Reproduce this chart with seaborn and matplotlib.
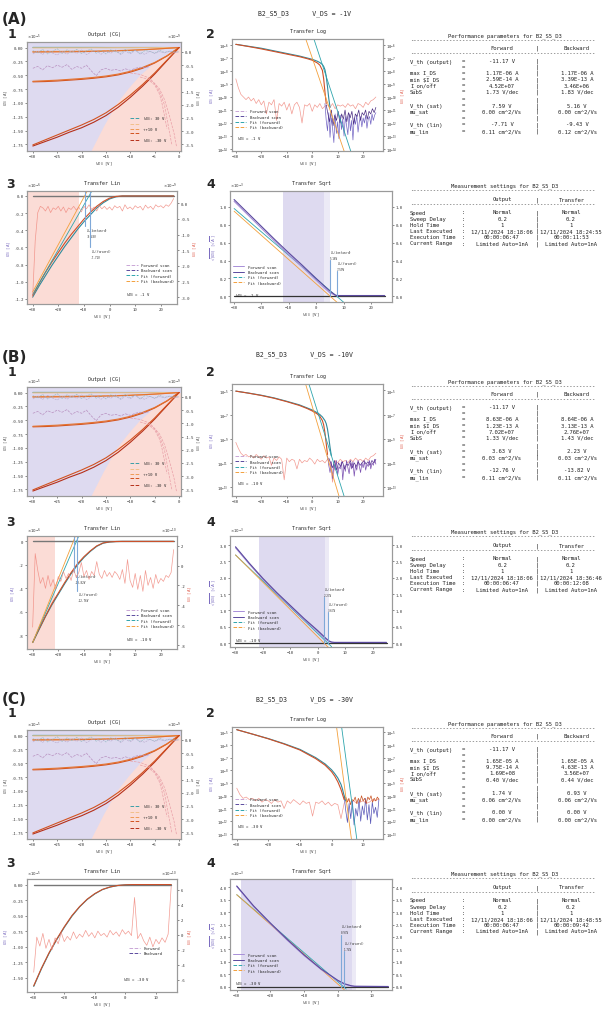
import matplotlib
matplotlib.use('Agg')
import matplotlib.pyplot as plt
from matplotlib.lines import Line2D
from matplotlib.ticker import NullLocator, FormatStrFormatter
import numpy as np
import seaborn as sns

W, H = 602, 1020
LAV = '#dedaf0'
LAV_LIGHT = '#eceaf6'
PINK = '#fbdcd6'
C_FWD = '#5b4a9e'
C_BWD = '#a88fd8'
C_FITF = '#2ea5ad'
C_FITB = '#f3a03c'
C_TEAL = '#2f8a9c'
C_RED = '#cf4f28'
C_GATE = '#f08a80'
C_VTH = '#7fa8d8'
TICK = 2.8

# ---------------- Output (CG): same output sweep in all three panels ----------------
vds = [-30, -27.5, -25, -22.5, -20, -17.5, -15, -12.5, -10, -7.5, -5, -2.5, 0]
id_out_m30_fwd = [-1.78, -1.70, -1.62, -1.53, -1.45, -1.35, -1.23, -1.08, -0.90, -0.70, -0.48, -0.24, 0.0]
id_out_m30_bwd = [-1.76, -1.67, -1.58, -1.49, -1.40, -1.30, -1.18, -1.03, -0.86, -0.67, -0.46, -0.23, 0.0]
id_out_m20_fwd = [-0.62, -0.615, -0.605, -0.59, -0.575, -0.555, -0.53, -0.495, -0.445, -0.375, -0.28, -0.155, 0.0]
id_out_m20_bwd = [-0.61, -0.60, -0.59, -0.575, -0.56, -0.54, -0.515, -0.48, -0.43, -0.36, -0.27, -0.15, 0.0]
id_out_m10_fwd = [-0.072, -0.071, -0.07, -0.068, -0.066, -0.063, -0.059, -0.054, -0.047, -0.038, -0.027, -0.014, 0.0]
id_out_m10_bwd = [-0.082, -0.081, -0.079, -0.077, -0.074, -0.07, -0.065, -0.059, -0.051, -0.041, -0.029, -0.015, 0.0]
id_out_0 = [-0.006, -0.006, -0.005, -0.005, -0.005, -0.004, -0.004, -0.003, -0.003, -0.002, -0.002, -0.001, 0.0]
id_out_pos = [0.002, 0.002, 0.002, 0.002, 0.002, 0.002, 0.001, 0.001, 0.001, 0.001, 0.001, 0.0, 0.0]
out_colors = ['#3a9fa8', '#a9cfc9', '#f2c08a', '#ef9a55', '#e4722f', '#d2521f', '#b5301a']

sat_edge_x = [-18.1, -15.5, -12.8, -10.3, -8.1, -4.8, -2.2, 0, 0.4]
sat_edge_y = [-1.87, -1.42, -1.0, -0.72, -0.5, -0.25, -0.1, 0.0, 0.0]

ig_out_top = [0.05, -0.05, 0.1, -0.08, 0.02, 0.12, -0.06, 0.08, -0.02, 0.1, -0.07, 0.04, 0.11, -0.05, 0.06, -0.08,
              0.09, 0.0, -0.06, 0.1, -0.03, 0.07, -0.08, 0.05, 0.02, -0.05, 0.06, -0.02, 0.03, 0.0, 0.0]
ig_out_top2 = [-0.08, 0.04, -0.1, 0.06, -0.04, -0.12, 0.02, -0.09, 0.05, -0.06, 0.08, -0.1, 0.0, 0.07, -0.09, 0.04,
               -0.05, 0.08, -0.1, 0.02, -0.07, 0.05, -0.04, -0.09, 0.03, -0.06, 0.01, -0.04, 0.02, -0.02, 0.0]
ig_out_mid = [-0.62, -0.55, -0.68, -0.52, -0.6, -0.5, -0.58, -0.48, -0.66, -0.55, -0.62, -0.5, -0.72, -0.9, -0.68,
              -0.62, -0.7, -0.66, -0.72, -0.64, -0.7, -0.62, -0.58, -0.6, -0.55]
ig_pink1_x = [-10, -8, -6, -4, -3, -2, -1, -0.5]
ig_pink1_y = [-0.8, -0.85, -1.0, -1.4, -1.8, -2.4, -3.1, -3.6]
ig_pink2_x = [-8, -6, -5, -4, -3, -2.5, -2, -1.5]
ig_pink2_y = [-0.95, -1.05, -1.2, -1.5, -2.0, -2.5, -3.0, -3.5]
ig_pink3_x = [-6, -5, -4, -3.5, -3, -2.5]
ig_pink3_y = [-1.1, -1.25, -1.6, -1.95, -2.4, -2.9]

# ---------------- Transfer Log (log10 of current) ----------------
log_xf_a = [-30, -25, -20, -15, -10, -5, -2, 0, 2, 3, 4, 4.5, 5, 5.5, 6, 6.5, 7]
log_f_a = [-5.95, -6.1, -6.25, -6.45, -6.65, -6.85, -7.0, -7.1, -7.25, -7.35, -7.5, -7.65, -7.9, -8.4, -9.2, -10.1, -10.8]
log_xb_a = [-30, -25, -20, -15, -10, -5, -2, 0, 2, 3, 4, 4.5, 5, 5.5]
log_b_a = [-5.95, -6.12, -6.3, -6.5, -6.7, -6.9, -7.05, -7.17, -7.38, -7.55, -7.95, -8.6, -9.6, -10.5]
off_f_a = [-10.5, -11.8, -12.6, -11.2, -13.1, -11.6, -12.4, -13.5, -11.3, -12.8, -11.9, -13.2, -11.4, -12.5, -11.7,
           -13.0, -11.5, -12.2, -12.9, -11.3, -12.6, -11.8, -13.3, -11.6, -12.1, -11.4, -12.7, -11.9, -11.5, -12.3,
           -11.6, -12.0, -11.4, -12.4, -11.7, -11.5, -12.1, -11.3, -11.8, -11.4, -11.2]
off_b_a = [-10.6, -11.3, -11.9, -11.0, -12.2, -11.4, -11.8, -11.1, -12.0, -11.3, -11.7, -11.0, -11.9, -11.2, -11.6,
           -11.1, -12.1, -11.3, -11.5, -11.0, -11.8, -11.2, -11.4, -11.0, -11.7, -11.1, -11.3, -10.9, -11.2, -10.8]
ig_log_a = [-8.6, -9.3, -9.8, -10.0, -10.2, -10.0, -10.3, -10.1, -10.5, -10.2, -10.6, -10.3, -11.3, -10.4, -10.6,
            -10.2, -11.8, -10.5, -10.7, -10.4, -11.0, -10.5, -11.3, -10.6, -10.4, -10.8, -12.0, -10.6, -10.7, -10.5,
            -11.1, -10.6, -10.8, -10.5, -10.9, -10.7, -10.6, -10.8, -10.5, -10.9, -10.6, -10.7, -10.6, -10.8, -10.5,
            -10.7, -10.6, -10.9, -10.5, -10.6, -10.8, -10.4, -10.6, -10.3, -10.2, -10.0]

log_xf_b = [-30, -25, -20, -15, -10, -5, -2, 0, 2, 3, 4, 5, 5.5, 6, 6.5, 7, 7.5]
log_f_b = [-5.06, -5.22, -5.4, -5.62, -5.9, -6.2, -6.45, -6.62, -6.85, -7.0, -7.2, -7.5, -7.75, -8.2, -8.9, -9.7, -10.4]
log_xb_b = [-30, -25, -20, -15, -10, -5, -2, 0, 2, 3, 4, 4.5, 5, 5.5, 6]
log_b_b = [-5.06, -5.23, -5.42, -5.65, -5.93, -6.25, -6.5, -6.7, -6.95, -7.15, -7.5, -7.85, -8.5, -9.4, -10.3]
off_f_b = [-10.4, -11.2, -11.8, -10.9, -12.3, -11.1, -11.6, -10.8, -12.0, -11.3, -11.5, -10.9, -12.4, -11.2, -11.7,
           -10.8, -11.4, -11.9, -11.0, -11.5, -10.9, -12.1, -11.2, -11.6, -10.8, -11.3, -11.8, -11.0, -11.4, -10.9,
           -11.6, -11.1, -11.3, -10.8, -11.5, -11.0, -11.2, -10.7, -11.1]
off_b_b = [-10.6, -11.0, -11.4, -10.8, -11.6, -11.0, -11.3, -10.9, -11.5, -11.1, -11.2, -10.8, -11.4, -11.0, -11.3,
           -10.9, -11.2, -11.0, -10.8, -11.1, -10.9, -11.2, -10.8, -11.0, -10.7]
ig_log_b = [-9.3, -9.8, -10.2, -10.4, -10.3, -10.5, -10.4, -10.6, -10.3, -10.5, -10.7, -10.4, -10.6, -10.5, -11.2,
            -10.6, -10.8, -10.5, -10.7, -12.4, -10.6, -10.9, -10.7, -10.8, -11.5, -10.7, -11.0, -10.8, -10.9, -10.6,
            -10.8, -11.1, -10.7, -10.9, -10.8, -11.0, -10.7, -10.9, -12.6, -10.8, -11.0, -10.7, -10.9, -10.8, -11.0,
            -10.7, -10.9, -10.6, -10.8, -10.7, -10.9, -10.6, -10.8, -10.5, -10.4, -10.2]

log_xf_c = [-30, -25, -20, -15, -10, -5, -2, 0, 1, 2, 3, 3.5, 4, 4.5]
log_f_c = [-4.8, -5.15, -5.5, -5.9, -6.35, -7.0, -7.5, -7.95, -8.25, -8.6, -9.1, -9.5, -10.0, -10.4]
log_xb_c = [-30, -25, -20, -15, -10, -5, -2, 0, 1, 2, 3, 3.5, 4]
log_b_c = [-4.8, -5.15, -5.52, -5.93, -6.4, -7.08, -7.6, -8.1, -8.45, -8.9, -9.5, -9.9, -10.3]
off_f_c = [-10.0, -11.2, -12.1, -10.6, -11.8, -10.4, -12.3, -11.0, -11.6, -10.3, -12.0, -10.8, -11.5, -10.2, -11.9,
           -10.7, -12.2, -10.5, -11.4, -10.9, -11.7, -10.3]
off_b_c = [-10.1, -10.5, -10.2, -10.7, -10.3, -10.4, -10.1, -10.6, -10.2, -10.5, -10.0, -10.4, -10.2, -10.6, -10.1,
           -10.3, -10.0, -10.5, -10.2, -10.4, -10.1, -10.3]
ig_log_c = [-9.4, -9.9, -10.2, -10.1, -10.3, -10.2, -10.4, -10.2, -10.5, -10.3, -10.4, -10.6, -10.3, -10.5, -10.4,
            -11.0, -10.4, -10.6, -10.3, -10.5, -10.7, -10.4, -10.6, -10.5, -11.6, -10.5, -10.6, -10.4, -10.7, -10.5,
            -10.8, -10.6, -10.7, -11.8, -10.6, -10.3, -10.5, -10.4, -10.6, -10.5, -10.4, -10.6, -10.5, -10.3, -10.4,
            -10.2]

# ---------------- Transfer Lin ----------------
lin_x = [-30, -27.5, -25, -22.5, -20, -17.5, -15, -12.5, -10, -7.5, -5, -2.5, 0, 2.5, 5, 7.5, 25]
lin_f_a = [-1.18, -1.05, -0.93, -0.81, -0.70, -0.59, -0.49, -0.39, -0.30, -0.22, -0.14, -0.08, -0.035, -0.01, 0.0, 0.0, 0.0]
lin_b_a = [-1.16, -1.02, -0.89, -0.77, -0.66, -0.55, -0.45, -0.36, -0.27, -0.19, -0.12, -0.065, -0.025, -0.005, 0.0, 0.0, 0.0]
ig_lin_a = [-3.0, -1.2, -0.3, -0.1, -0.15, -0.25, -0.1, -0.3, -0.15, -0.2, -0.1, -0.25, -0.12, -0.3, -0.15, -0.2,
            -0.1, -0.22, -0.12, -0.28, -0.1, -0.18, -0.05, -0.2, -0.12, -0.25, -0.08, -0.18, -0.1, -0.2, -0.12,
            -0.22, -0.08, -0.15, -0.1, -0.25, -0.05, -0.18, -0.12, -0.2, -0.08, -0.15, -0.1, -0.22, -0.06, -0.16,
            -0.1, -0.2, -0.05, -0.12, -0.08, -0.15, -0.05, -0.1, 0.0, 0.15]
lin_f_b = [-8.6, -7.5, -6.4, -5.4, -4.5, -3.6, -2.75, -2.0, -1.37, -0.85, -0.42, -0.15, -0.05, -0.01, 0.0, 0.0, 0.0]
lin_b_b = [-8.6, -7.45, -6.35, -5.3, -4.4, -3.5, -2.65, -1.9, -1.3, -0.8, -0.38, -0.13, -0.04, -0.01, 0.0, 0.0, 0.0]
ig_lin_b = [-6.2, 1.2, -0.5, -1.8, -1.2, -2.3, -1.0, -2.1, -1.4, -2.4, -1.1, -1.6, -0.6, -1.3, -0.8, -1.5, -0.4,
            -1.2, -0.7, 0.3, -1.1, -0.5, -1.4, -0.6, -1.0, 0.4, -0.9, -1.3, -0.5, -1.1, -0.7, -1.2, -0.6, -0.9,
            -1.4, -0.4, -1.8, 0.6, -1.5, -2.2, -0.8, -2.4, -1.0, -2.6, -0.5, -2.0, -1.2, -2.3, -0.9, -1.8, -1.3,
            -1.6, -1.0, -1.2, -0.7, 1.6]
lin_x_c = [-30, -27.5, -25, -22.5, -20, -17.5, -15, -12.5, -10, -7.5, -5, -2.5, 0, 2.5, 5, 15]
lin_f_c = [-1.64, -1.36, -1.11, -0.89, -0.69, -0.51, -0.36, -0.24, -0.15, -0.08, -0.04, -0.015, -0.005, 0.0, 0.0, 0.0]
lin_b_c = [-1.63, -1.35, -1.10, -0.88, -0.68, -0.50, -0.355, -0.235, -0.145, -0.078, -0.038, -0.014, -0.004, 0.0, 0.0, 0.0]
ig_lin_c = [-5.0, -0.3, -1.5, 0.2, -1.8, -0.6, -2.0, -0.4, -1.2, 0.3, -0.9, -0.2, -0.7, 0.4, -0.5, 0.1, -0.3, 0.6,
            -0.2, 0.3, -0.4, 0.5, -0.1, 0.2, -0.3, 0.6, 0.0, 0.4, -0.2, 0.7, 0.1, 0.5, -0.1, 5.0, -0.5, 0.2, -0.8,
            -1.4, -0.3, -1.6, -0.6, -1.2, -0.4, -1.0, 0.1, 6.5]

# ---------------- Transfer Sqrt ----------------
sq_x_a = [-30, -25, -20, -15, -10, -5, 0, 3, 5, 7, 7.6, 10, 25]
sq_f_a = [1.08, 0.93, 0.78, 0.63, 0.485, 0.345, 0.2, 0.115, 0.06, 0.015, 0.01, 0.01, 0.01]
sq_b_a = [1.06, 0.91, 0.76, 0.61, 0.465, 0.325, 0.18, 0.095, 0.04, 0.012, 0.01, 0.01, 0.01]
sq_x_b = [-30, -25, -20, -15, -10, -5, 0, 2, 3, 4, 5, 6, 25]
sq_f_b = [2.95, 2.45, 1.98, 1.55, 1.15, 0.75, 0.38, 0.22, 0.14, 0.07, 0.03, 0.02, 0.02]
sq_b_b = [2.92, 2.42, 1.95, 1.52, 1.12, 0.72, 0.35, 0.19, 0.11, 0.05, 0.025, 0.02, 0.02]
sq_x_c = [-30, -25, -20, -15, -10, -5, 0, 2, 4, 5, 15]
sq_f_c = [4.05, 3.25, 2.56, 1.9, 1.28, 0.72, 0.26, 0.12, 0.04, 0.02, 0.01]
sq_b_c = [4.03, 3.22, 2.53, 1.87, 1.25, 0.70, 0.24, 0.1, 0.03, 0.015, 0.01]

# ---------------- tables ----------------
perf_labels = ['V_th (output)', '', 'max I_DS', 'min $I_DS', 'I_on/off', 'SubS', '', 'V_th (sat)', 'mu_sat', '',
               'V_th (lin)', 'mu_lin']
perf_fwd_a = ['-11.17 V', '', '1.17E-06 A', '2.59E-14 A', '4.52E+07', '1.73 V/dec', '', '7.59 V', '0.00 cm^2/Vs', '',
              '-7.71 V', '0.11 cm^2/Vs']
perf_bwd_a = ['', '', '1.17E-06 A', '3.39E-13 A', '3.46E+06', '1.83 V/dec', '', '5.16 V', '0.00 cm^2/Vs', '',
              '-9.43 V', '0.12 cm^2/Vs']
perf_fwd_b = ['-11.17 V', '', '8.63E-06 A', '1.23E-13 A', '7.02E+07', '1.33 V/dec', '', '3.63 V', '0.03 cm^2/Vs', '',
              '-12.76 V', '0.11 cm^2/Vs']
perf_bwd_b = ['', '', '8.64E-06 A', '3.13E-13 A', '2.76E+07', '1.43 V/dec', '', '2.23 V', '0.03 cm^2/Vs', '',
              '-13.82 V', '0.11 cm^2/Vs']
perf_fwd_c = ['-11.17 V', '', '1.65E-05 A', '9.75E-14 A', '1.69E+08', '0.40 V/dec', '', '1.74 V', '0.06 cm^2/Vs', '',
              '0.00 V', '0.00 cm^2/Vs']
perf_bwd_c = ['', '', '1.65E-05 A', '4.63E-13 A', '3.56E+07', '0.44 V/dec', '', '0.93 V', '0.06 cm^2/Vs', '',
              '0.00 V', '0.00 cm^2/Vs']
meas_labels = ['Speed', 'Sweep Delay', 'Hold Time', 'Last Executed', 'Execution Time', 'Current Range']
meas_output = ['Normal', '0.2', '1', '12/11/2024 18:18:06', '00:00:06:47', 'Limited Auto=1nA']
meas_transfer_a = ['Normal', '0.2', '1', '12/11/2024 18:24:55', '00:00:11:53', 'Limited Auto=1nA']
meas_transfer_b = ['Normal', '0.2', '1', '12/11/2024 18:36:46', '00:00:12:08', 'Limited Auto=1nA']
meas_transfer_c = ['Normal', '0.2', '1', '12/11/2024 18:48:55', '00:00:09:42', 'Limited Auto=1nA']

sns.set_theme(style='white')
plt.rcParams['font.family'] = ['DejaVu Sans Mono', 'DejaVu Sans']
plt.rcParams['mathtext.fontset'] = 'dejavusans'

fig = plt.figure(figsize=(W / 100, H / 100), dpi=100)


def box(l, t, r, b):
    return [l / W, 1 - b / H, (r - l) / W, (b - t) / H]


def ftext(x, y, s, **kw):
    fig.text(x / W, 1 - y / H, s, **kw)


def line(ax, x, y, color, lw=0.7, ls='-', alpha=1.0, z=3):
    sns.lineplot(x=np.asarray(x, float), y=np.asarray(y, float), ax=ax, color=color, linewidth=lw,
                 linestyle=ls, alpha=alpha, sort=False, estimator=None, zorder=z, legend=False)


def style(ax, xt=None, yt=None, fmt=None, right=False):
    if xt is not None:
        ax.set_xticks(xt)
    if yt is not None:
        ax.set_yticks(yt)
    if fmt:
        ax.yaxis.set_major_formatter(FormatStrFormatter(fmt))
    ax.tick_params(labelsize=TICK, length=1.5, width=0.4, pad=1, colors='#333333',
                   bottom=True, left=not right, right=right)
    for s in ax.spines.values():
        s.set_color('#9a9a9a')
        s.set_linewidth(0.8)


def exp_label(ax, s, side='left'):
    ax.text(0 if side == 'left' else 1, 1.005, s, transform=ax.transAxes, fontsize=TICK,
            ha=side, va='bottom', color='#333333')


def title(ax, s):
    ax.set_title(s, fontsize=3.6, pad=5, color='#222222')


def scan_legend(ax, loc, anchor, fits=True, solid=False):
    ls = '-' if solid else '--'
    if fits:
        h = [Line2D([0], [0], color=C_BWD if solid else '#c9a6d6', lw=0.7, ls=ls),
             Line2D([0], [0], color=C_FWD, lw=0.7, ls=ls),
             Line2D([0], [0], color=C_FITF, lw=0.7, ls='--'),
             Line2D([0], [0], color=C_FITB, lw=0.7, ls='--')]
        lab = ['Forward scan', 'Backward scan', 'Fit (forward)', 'Fit (backward)']
    else:
        h = [Line2D([0], [0], color='#c9a6d6', lw=0.7, ls=ls), Line2D([0], [0], color=C_FWD, lw=0.7, ls=ls)]
        lab = ['Forward', 'Backward']
    ax.legend(h, lab, loc=loc, bbox_to_anchor=anchor, fontsize=2.8, frameon=False, handlelength=3,
              labelspacing=0.35, borderpad=0.2)


def draw_output(ax):
    ax2 = ax.twinx()
    ax.fill_between([-31.2, 0.4], -1.87, 0.1, color=LAV, lw=0, zorder=0)
    ax.fill_between(sat_edge_x, sat_edge_y, -1.87, color=PINK, lw=0, zorder=0)
    gx = np.linspace(-30, 0, len(ig_out_top))
    line(ax2, gx, ig_out_top, '#8fb8c0', lw=0.4, ls='--', z=2)
    line(ax2, gx, ig_out_top2, '#b8a8cc', lw=0.4, ls='--', z=2)
    line(ax2, np.linspace(-30, -6, len(ig_out_mid)), ig_out_mid, '#b890c0', lw=0.5, ls='--', z=2)
    for xs, ys in [(ig_pink1_x, ig_pink1_y), (ig_pink2_x, ig_pink2_y), (ig_pink3_x, ig_pink3_y)]:
        line(ax2, xs, ys, '#e9a0a8', lw=0.5, ls='--', z=2)
    curves = [(id_out_pos, out_colors[0]), (id_out_0, out_colors[2]),
              (id_out_m10_fwd, out_colors[3]), (id_out_m10_bwd, out_colors[4]),
              (id_out_m20_fwd, out_colors[5]), (id_out_m20_bwd, out_colors[4]),
              (id_out_m30_fwd, out_colors[6]), (id_out_m30_bwd, out_colors[5])]
    for ys, c in curves:
        line(ax, vds, ys, c, lw=0.8)
    ax.set_xlim(-31.2, 0.4)
    ax.set_ylim(-1.87, 0.1)
    ax2.set_ylim(-3.75, 0.375)
    style(ax, [-30, -25, -20, -15, -10, -5, 0], [0, -0.25, -0.5, -0.75, -1.0, -1.25, -1.5, -1.75], '%.2f')
    style(ax2, None, [0, -0.5, -1.0, -1.5, -2.0, -2.5, -3.0, -3.5], '%.1f', right=True)
    ax.set_xlabel(r'$V_{DS}$ [V]', fontsize=3, labelpad=1, color='#444444')
    ax.set_ylabel(r'$I_{DS}$ [A]', fontsize=3, labelpad=1, color='#555555')
    ax2.set_ylabel(r'$I_{GS}$ [A]', fontsize=3, labelpad=1, color='#555555')
    exp_label(ax, r'$\times10^{-5}$')
    exp_label(ax, r'$\times10^{-9}$', 'right')
    title(ax, 'Output (CG)')
    h = [Line2D([0], [0], color=c, lw=0.7, ls='--') for c in
         [out_colors[0], out_colors[2], out_colors[3], out_colors[5], out_colors[6]]]
    ax2.legend(h, [r'$V_{GS}$: 30 V', ' ', '\u2191+10 V', ' ', r'$V_{GS}$: -30 V'], loc='lower right',
               bbox_to_anchor=(0.93, 0.04), fontsize=2.8, frameon=False, handlelength=2.5,
               labelspacing=0.15, borderpad=0.2)


def draw_log(ax, p):
    ax.set_yscale('log')
    ax2 = ax.twinx()
    ax2.set_yscale('log')
    line(ax, np.linspace(-30, p['x1'], len(p['ig'])), 10.0 ** np.array(p['ig']), C_GATE, lw=0.5, alpha=0.85, z=1)
    line(ax, np.linspace(p['off0'], p['x1'], len(p['off_f'])), 10.0 ** np.array(p['off_f']), p['off_cf'], lw=0.5, z=2)
    line(ax, np.linspace(p['off0'] + 0.5, p['x1'], len(p['off_b'])), 10.0 ** np.array(p['off_b']), p['off_cb'],
         lw=0.5, z=2)
    line(ax, p['xf'], 10.0 ** np.array(p['f']), C_TEAL, lw=0.8, z=3)
    line(ax, p['xb'], 10.0 ** np.array(p['b']), C_RED, lw=0.8, z=3)
    line(ax, p['fitf_x'], 10.0 ** np.array(p['fit_y']), C_FITF, lw=0.6, z=4)
    line(ax, p['fitb_x'], 10.0 ** np.array(p['fit_y']), C_FITB, lw=0.6, z=4)
    lo, hi = p['ylim']
    for a in (ax, ax2):
        a.set_ylim(10.0 ** lo, 10.0 ** hi)
        a.set_yticks([10.0 ** k for k in p['yexp']])
        a.yaxis.set_minor_locator(NullLocator())
    ax.set_xlim(-31.5, p['xr'])
    style(ax, p['xt'])
    style(ax2, right=True)
    ax.set_xlabel(r'$V_{GS}$ [V]', fontsize=3, labelpad=1, color='#444444')
    ax.set_ylabel(r'$I_{DS}$ [A]', fontsize=3, labelpad=1, color='#7b6cc0')
    ax2.set_ylabel(r'$I_{GS}$ [A]', fontsize=3, labelpad=1, color='#e06050')
    title(ax, 'Transfer Log')
    scan_legend(ax, 'lower left', (0.0, 0.17))
    ax.text(0.03, 0.1, r'$V_{DS}$ = %s V' % p['vds'], transform=ax.transAxes, fontsize=2.8)


def draw_lin(ax, p):
    ax2 = ax.twinx()
    if p['pink']:
        ax.axvspan(p['xlim'][0], p['pink'], color=PINK, lw=0, zorder=0)
    line(ax, [-30, p['x1']], [0, 0], '#777777', lw=1.0, z=2)
    line(ax2, np.linspace(-30, p['x1'], len(p['ig'])), p['ig'], C_GATE, lw=0.5, alpha=0.85, z=1)
    line(ax, p['x'], p['f'], C_TEAL, lw=0.8)
    line(ax, p['x'], p['b'], C_RED, lw=0.8)
    if p['fitf_x']:
        line(ax, p['fitf_x'], p['fitf_y'], C_FITF, lw=0.6, z=4)
        line(ax, p['fitb_x'], p['fitb_y'], C_FITB, lw=0.6, z=4)
        top = p['ylim'][1]
        for vx, vy, lab in p['vth']:
            line(ax, [vx, vx], [top, vy], C_VTH, lw=0.8, z=5)
            ax.text(vx + 0.3, vy, lab, fontsize=2.0, va='top', ha='left', color='#333333', linespacing=1.0)
    ax.set_xlim(*p['xlim'])
    ax.set_ylim(*p['ylim'])
    ax2.set_ylim(*p['ylim2'])
    style(ax, p['xt'], p['yt'], p['fmt'])
    style(ax2, None, p['yt2'], p['fmt2'], right=True)
    ax.set_xlabel(r'$V_{GS}$ [V]', fontsize=3, labelpad=1, color='#444444')
    ax.set_ylabel(r'$I_{DS}$ [A]', fontsize=3, labelpad=1, color='#7b6cc0')
    ax2.set_ylabel(r'$I_{GS}$ [A]', fontsize=3, labelpad=1, color='#e06050')
    exp_label(ax, p['e1'])
    exp_label(ax, p['e2'], 'right')
    title(ax, 'Transfer Lin')
    if p['fitf_x']:
        scan_legend(ax2, 'lower right', (1.0, 0.16))
        ax2.text(0.66, 0.08, r'$V_{DS}$ = %s V' % p['vds'], transform=ax.transAxes, fontsize=2.8)
    else:
        scan_legend(ax2, 'lower right', (0.92, 0.3), fits=False)
        ax2.text(0.64, 0.1, r'$V_{DS}$ = %s V' % p['vds'], transform=ax.transAxes, fontsize=2.8)


def draw_sqrt(ax, p):
    ax2 = ax.twinx()
    ax.axvspan(*p['shade'], color=LAV, lw=0, zorder=0)
    ax.axvspan(*p['shade2'], color=LAV_LIGHT, lw=0, zorder=0)
    line(ax, [-30, p['x1']], [0, 0], '#333333', lw=0.9, z=2)
    line(ax, p['fitf_x'], p['fitf_y'], C_FITF, lw=0.6, z=3)
    line(ax, p['fitb_x'], p['fitb_y'], C_FITB, lw=0.6, z=3)
    line(ax, p['x'], p['b'], C_BWD, lw=0.8, z=4)
    line(ax, p['x'], p['f'], C_FWD, lw=0.8, z=4)
    for vx, vy, lab in p['vth']:
        line(ax, [vx, vx], [0, vy], C_VTH, lw=0.8, z=5)
        ax.text(vx, vy, lab, fontsize=2.0, va='bottom', ha='left', color='#333333', linespacing=1.0)
    ax.set_xlim(*p['xlim'])
    for a in (ax, ax2):
        a.set_ylim(*p['ylim'])
    style(ax, p['xt'], p['yt'], '%.1f')
    style(ax2, None, p['yt'], '%.1f', right=True)
    ax.set_xlabel(r'$V_{GS}$ [V]', fontsize=3, labelpad=1, color='#444444')
    ax.set_ylabel(r'$\sqrt{|I_{DS}|}$ [$\sqrt{A}$]', fontsize=3, labelpad=1, color='#7b6cc0')
    exp_label(ax, r'$\times10^{-3}$')
    title(ax, 'Transfer Sqrt')
    scan_legend(ax, 'lower left', (0.0, 0.13), solid=True)
    ax.text(0.03, 0.05, r'$V_{DS}$ = %s V' % p['vds'], transform=ax.transAxes, fontsize=2.8)


def draw_tables(dy, fwd, bwd, transfer):
    kw = dict(fontsize=4.0, va='center', family='DejaVu Sans Mono', color='#222222')
    dash = '-' * 57
    ftext(505, 35.7 + dy, 'Performance parameters for B2_S5_D3', ha='center', **kw)
    ftext(410, 41 + dy, dash, ha='left', **kw)
    ftext(502, 48.7 + dy, 'Forward', ha='center', **kw)
    ftext(537, 48.7 + dy, '|', ha='center', **kw)
    ftext(577, 48.7 + dy, 'Backward', ha='center', **kw)
    ftext(410, 54 + dy, dash, ha='left', **kw)
    rows = [61.7, 67.7, 73.3, 80, 86, 92, 100, 106, 111.7, 118.7, 125, 131.7]
    for y, lab, f, b in zip(rows, perf_labels, fwd, bwd):
        ftext(410, y + dy, lab, ha='left', **kw)
        ftext(463, y + dy, '=', ha='center', **kw)
        ftext(502, y + dy, f, ha='center', **kw)
        ftext(537, y + dy, '|', ha='center', **kw)
        ftext(577, y + dy, b, ha='center', **kw)
    ftext(505, 185.7 + dy, 'Measurement settings for B2_S5_D3', ha='center', **kw)
    ftext(410, 191 + dy, dash, ha='left', **kw)
    ftext(502, 200 + dy, 'Output', ha='center', **kw)
    ftext(537, 200 + dy, '|', ha='center', **kw)
    ftext(572, 200 + dy, 'Transfer', ha='center', **kw)
    ftext(410, 205 + dy, dash, ha='left', **kw)
    rows = [213, 219.5, 225.5, 231.7, 237.7, 244]
    for y, lab, o, t in zip(rows, meas_labels, meas_output, transfer):
        ftext(410, y + dy, lab, ha='left', **kw)
        ftext(463, y + dy, ':', ha='center', **kw)
        ftext(502, y + dy, o, ha='center', **kw)
        ftext(537, y + dy, '|', ha='center', **kw)
        ftext(571, y + dy, t, ha='center', **kw)


panels = [
    dict(tag='(A)', dy=0, ldy=0, sy=14, tdy=0, vds='-1',
         log=dict(xf=log_xf_a, f=log_f_a, xb=log_xb_a, b=log_b_a, off_f=off_f_a, off_b=off_b_a, ig=ig_log_a,
                  off0=5, x1=25, xr=27.8, off_cf='#7466c4', off_cb='#4b2e83', fitf_x=[0.6, 15.2], fitb_x=[-2.6, 12.6],
                  fit_y=[-5.5, -14.2], ylim=(-14.15, -5.54), yexp=[-6, -7, -8, -9, -10, -11, -12, -13, -14],
                  xt=[-30, -20, -10, 0, 10, 20], vds='-1'),
         lin=dict(x=lin_x, f=lin_f_a, b=lin_b_a, ig=ig_lin_a, x1=25, pink=-12, xlim=(-32.2, 26.3),
                  ylim=(-1.26, 0.058), ylim2=(-3.22, 0.39), yt=[0, -0.2, -0.4, -0.6, -0.8, -1.0, -1.2], fmt='%.1f',
                  yt2=[0, -0.5, -1.0, -1.5, -2.0, -2.5, -3.0], fmt2='%.1f', e1=r'$\times10^{-6}$',
                  e2=r'$\times10^{-9}$', fitf_x=[-30, -6.9], fitf_y=[-1.15, 0.058], fitb_x=[-30, -8.7],
                  fitb_y=[-1.12, 0.058], xt=[-30, -20, -10, 0, 10, 20], vds='-1',
                  vth=[(-9.43, -0.35, r'$V_{th}$(backward)' + '\n-9.43V'),
                       (-7.71, -0.6, r'$V_{th}$(forward)' + '\n-7.71V')]),
         sq=dict(x=sq_x_a, f=sq_f_a, b=sq_b_a, x1=25, shade=(-12, 3), shade2=(3, 5), xlim=(-31.5, 27.7),
                 ylim=(-0.062, 1.175), yt=[0, 0.2, 0.4, 0.6, 0.8, 1.0], fitf_x=[-30, 11], fitf_y=[0.98, -0.09],
                 fitb_x=[-30, 10], fitb_y=[0.95, -0.13], xt=[-30, -20, -10, 0, 10, 20], vds='-1',
                 vth=[(5.16, 0.41, r'$V_{th}$(backward)' + '\n5.16V'), (7.59, 0.28, r'$V_{th}$(forward)' + '\n7.59V')]),
         fwd=perf_fwd_a, bwd=perf_bwd_a, transfer=meas_transfer_a),
    dict(tag='(B)', dy=345, ldy=338, sy=355, tdy=346, vds='-10',
         log=dict(xf=log_xf_b, f=log_f_b, xb=log_xb_b, b=log_b_b, off_f=off_f_b, off_b=off_b_b, ig=ig_log_b,
                  off0=6, x1=25, xr=27.8, off_cf='#7a4fb0', off_cb='#5a3590', fitf_x=[-1.3, 12.5], fitb_x=[-2.6, 10.5],
                  fit_y=[-4.47, -13.74], ylim=(-13.74, -4.47), yexp=[-5, -7, -9, -11, -13],
                  xt=[-30, -20, -10, 0, 10, 20], vds='-10'),
         lin=dict(x=lin_x, f=lin_f_b, b=lin_b_b, ig=ig_lin_b, x1=25, pink=-21.4, xlim=(-32.2, 26.3),
                  ylim=(-9.15, 0.46), ylim2=(-8.4, 2.97), yt=[0, -2, -4, -6, -8], fmt='%d',
                  yt2=[2, 0, -2, -4, -6, -8], fmt2='%d', e1=r'$\times10^{-6}$', e2=r'$\times10^{-10}$',
                  fitf_x=[-30, -12.0], fitf_y=[-8.6, 0.46], fitb_x=[-30, -13.3], fitb_y=[-8.6, 0.46],
                  xt=[-30, -20, -10, 0, 10, 20], vds='-10',
                  vth=[(-13.82, -2.6, r'$V_{th}$(backward)' + '\n-13.82V'),
                       (-12.76, -4.2, r'$V_{th}$(forward)' + '\n-12.76V')]),
         sq=dict(x=sq_x_b, f=sq_f_b, b=sq_b_b, x1=25, shade=(-21.4, 2.5), shade2=(2.5, 4), xlim=(-32, 27),
                 ylim=(-0.12, 3.28), yt=[0, 0.5, 1.0, 1.5, 2.0, 2.5, 3.0], fitf_x=[-30, 5], fitf_y=[2.7, -0.11],
                 fitb_x=[-30, 4.5], fitb_y=[2.7, -0.19], xt=[-30, -20, -10, 0, 10, 20], vds='-10',
                 vth=[(2.23, 1.4, r'$V_{th}$(backward)' + '\n2.23V'), (3.63, 0.95, r'$V_{th}$(forward)' + '\n3.63V')]),
         fwd=perf_fwd_b, bwd=perf_bwd_b, transfer=meas_transfer_b),
    dict(tag='(C)', dy=688, ldy=679, sy=700, tdy=688, vds='-30',
         log=dict(xf=log_xf_c, f=log_f_c, xb=log_xb_c, b=log_b_c, off_f=off_f_c, off_b=off_b_c, ig=ig_log_c,
                  off0=4, x1=15, xr=16.3, off_cf='#5a58b8', off_cb='#c8501f', fitf_x=[3.2, 8.0], fitb_x=[1.6, 6.3],
                  fit_y=[-4.59, -13.4], ylim=(-13.4, -4.59), yexp=[-5, -6, -7, -8, -9, -10, -11, -12, -13],
                  xt=[-30, -20, -10, 0, 10], vds='-30'),
         lin=dict(x=lin_x_c, f=lin_f_c, b=lin_b_c, ig=ig_lin_c, x1=15, pink=None, xlim=(-32.2, 16.9),
                  ylim=(-1.73, 0.09), ylim2=(-7.64, 7.47), yt=[0, -0.25, -0.5, -0.75, -1.0, -1.25, -1.5],
                  fmt='%.2f', yt2=[6, 4, 2, 0, -2, -4, -6], fmt2='%d', e1=r'$\times10^{-5}$',
                  e2=r'$\times10^{-10}$', fitf_x=None, xt=[-30, -20, -10, 0, 10], vds='-30', vth=[]),
         sq=dict(x=sq_x_c, f=sq_f_c, b=sq_b_c, x1=15, shade=(-28.8, 4.2), shade2=(4.2, 5.3), xlim=(-32, 16.1),
                 ylim=(-0.13, 4.33), yt=[0, 0.5, 1.0, 1.5, 2.0, 2.5, 3.0, 3.5, 4.0], fitf_x=[-30, 2.5],
                 fitf_y=[3.7, -0.09], fitb_x=[-30, 2], fitb_y=[3.7, -0.13], xt=[-30, -20, -10, 0, 10], vds='-30',
                 vth=[(0.93, 2.1, r'$V_{th}$(backward)' + '\n0.93V'), (1.74, 1.45, r'$V_{th}$(forward)' + '\n1.74V')]),
         fwd=perf_fwd_c, bwd=perf_bwd_c, transfer=meas_transfer_c),
]

for p in panels:
    dy, ldy = p['dy'], p['ldy']
    ftext(2, 20 + ldy, p['tag'], fontsize=11, fontweight='bold', family='DejaVu Sans', ha='left', va='center')
    for s, x, y in [('1', 8, 35), ('2', 206, 35), ('3', 6, 185), ('4', 206, 185)]:
        ftext(x, y + ldy, s, fontsize=9, fontweight='bold', family='DejaVu Sans', ha='left', va='center')
    ftext(304, p['sy'], 'B2_S5_D3      V_DS = %sV' % p['vds'], fontsize=4.7, ha='center', va='center')
    draw_output(fig.add_axes(box(27, 43 + dy, 181, 152 + dy)))
    draw_log(fig.add_axes(box(232, 40 + dy, 383, 152 + dy)), p['log'])
    draw_lin(fig.add_axes(box(27, 192 + dy, 177, 305 + dy)), p['lin'])
    draw_sqrt(fig.add_axes(box(230, 192 + dy, 392, 303 + dy)), p['sq'])
    draw_tables(p['tdy'], p['fwd'], p['bwd'], p['transfer'])

fig.savefig('out.png', dpi=100, facecolor='white')
